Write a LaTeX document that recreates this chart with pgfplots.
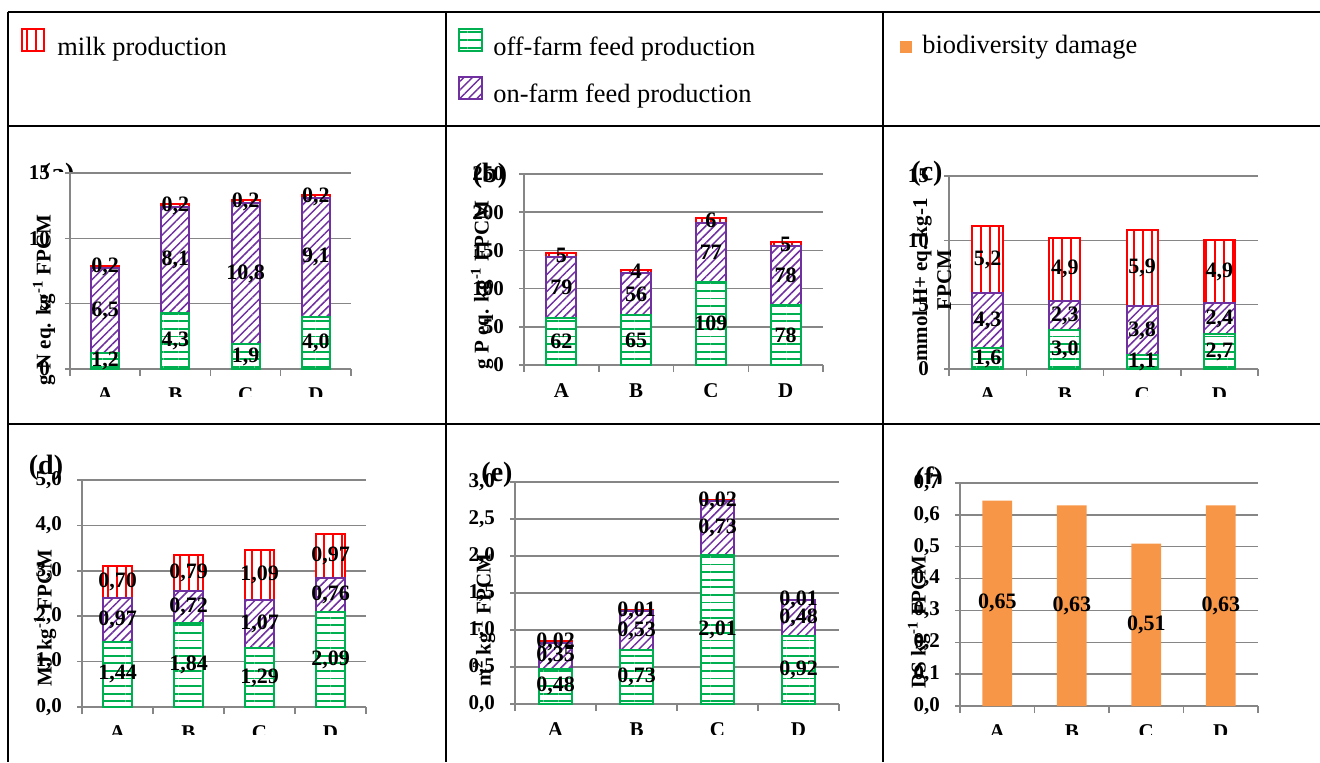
\documentclass[border=0pt]{standalone}
\usepackage{fontspec}
\setmainfont{Liberation Serif}
\usepackage{pgfplots}
\pgfplotsset{compat=1.18}
\usepackage{pgfplotstable}
\usetikzlibrary{patterns.meta}
\definecolor{offgreen}{HTML}{00B050}
\definecolor{onpurple}{HTML}{7030A0}
\definecolor{milkred}{HTML}{FF0000}
\definecolor{bioorange}{HTML}{F79646}
\definecolor{gridgray}{HTML}{868686}
\newcommand{\tl}{\fontsize{10.5}{12}\selectfont\bfseries}
\newcommand{\bl}{\fontsize{11}{12}\selectfont\bfseries}
\newcommand{\ttl}{\fontsize{14}{16}\selectfont\bfseries}
\newcommand{\legfont}{\fontsize{13.2}{15}\selectfont}
\tikzset{
  gpat/.style={pattern={Lines[angle=0,distance=3.8pt,line width=0.9pt]}, pattern color=offgreen},
  ppat/.style={pattern={Lines[angle=45,distance=3pt,line width=0.75pt]}, pattern color=onpurple},
  rpat/.style={pattern={Lines[angle=90,distance=4.5pt,line width=1pt]}, pattern color=milkred},
}
\pgfplotsset{
  /pgf/number format/assume math mode=true,
  /pgf/number format/use comma,
  base/.style={scale only axis, xmin=-0.5, xmax=3.5, ymin=0, clip=false, anchor=south west},
  frame/.style={base, ybar stacked, bar width=0.4,
    axis lines*=left,
    axis line style={draw=gridgray, line width=0.75pt},
    ymajorgrids, grid style={draw=gridgray, line width=0.75pt},
    xtick={0,1,2,3}, xticklabels={A,B,C,D},
    minor xtick={-0.5,0.5,1.5,2.5,3.5},
    major x tick style={draw=none},
    minor x tick style={draw=gridgray, line width=0.75pt},
    minor tick length=3.5pt, major tick length=2.5pt, tick align=outside,
    ytick style={draw=gridgray, line width=0.75pt},
    tick label style={font=\tl},
    xticklabel style={yshift=-3.5pt},
    yticklabel style={xshift=-4pt},
  },
  dec/.style={yticklabel style={/pgf/number format/.cd, fixed, fixed zerofill, precision=1}},
  lab/.style={base, hide axis},
  labplot/.style={draw=none, point meta=explicit,
    nodes near coords={\pgfmathprintnumber[fixed,fixed zerofill,precision=#1]{\pgfplotspointmeta}},
    every node near coord/.append style={anchor=center, font=\bl, inner sep=0pt}},
  greenbar/.style={draw=offgreen, line width=1pt, preaction={fill=white}, gpat},
  purplebar/.style={draw=onpurple, line width=1pt, preaction={fill=white}, ppat},
  redbar/.style={draw=milkred, line width=1pt, preaction={fill=white}, rpat},
}
\pgfplotstableread{
x g p r
0 1.2 6.5 0.2
1 4.3 8.1 0.2
2 1.9 10.8 0.2
3 4.0 9.1 0.2
}\tabA
\pgfplotstableread{
x g p r
0 62 79 5
1 65 56 4
2 109 77 6
3 78 78 5
}\tabB
\pgfplotstableread{
x g p r
0 1.6 4.3 5.2
1 3.0 2.3 4.9
2 1.1 3.8 5.9
3 2.7 2.4 4.9
}\tabC
\pgfplotstableread{
x g p r
0 1.44 0.97 0.70
1 1.84 0.72 0.79
2 1.29 1.07 1.09
3 2.09 0.76 0.97
}\tabD
\pgfplotstableread{
x g p r
0 0.48 0.35 0.02
1 0.73 0.53 0.01
2 2.01 0.73 0.02
3 0.92 0.48 0.01
}\tabE
\pgfplotstableread{
x v lab
0 0.645 0.65
1 0.63 0.63
2 0.51 0.51
3 0.63 0.63
}\tabF
\begin{document}
\begin{tikzpicture}
\useasboundingbox (0pt,0pt) rectangle (660pt,-381pt);
% ---------- table frame and legend
\begin{scope}[x=0.5pt,y=-0.5pt]
\draw[line width=1.3pt] (7.5,12) -- (1320,12);
\draw[line width=1.3pt] (7.5,126) -- (1320,126);
\draw[line width=1.3pt] (7.5,424) -- (1320,424);
\draw[line width=1pt] (8,12) -- (8,762);
\draw[line width=1pt] (446,12) -- (446,762);
\draw[line width=1pt] (883,12) -- (883,762);
\draw[milkred, line width=0.9pt, rpat] (22,29) rectangle (44,51);
\node[anchor=base west, font=\legfont, inner sep=0pt] at (57,55) {milk production};
\draw[offgreen, line width=0.9pt, gpat] (459,29) rectangle (482,51);
\node[anchor=base west, font=\legfont, inner sep=0pt] at (493,55) {off-farm feed production};
\draw[onpurple, line width=0.9pt, ppat] (459,77) rectangle (482,99);
\node[anchor=base west, font=\legfont, inner sep=0pt] at (493,102) {on-farm feed production};
\fill[bioorange] (900,41) rectangle (912,53);
\node[anchor=base west, font=\legfont, inner sep=0pt] at (922,53) {biodiversity damage};
\end{scope}
% ---------- (a)
\begin{scope}
\clip (4pt,-63pt) rectangle (223pt,-198pt);
\begin{axis}[frame, at={(35pt,-184.5pt)}, width=140.5pt, height=98pt, ymax=15, ytick={0,5,10,15}]
\addplot[greenbar] table[x=x,y=g]{\tabA};
\addplot[purplebar] table[x=x,y=p]{\tabA};
\addplot[redbar] table[x=x,y=r]{\tabA};
\end{axis}
\end{scope}
\begin{axis}[lab, at={(35pt,-184.5pt)}, width=140.5pt, height=98pt, ymax=15]
\addplot[labplot=1] table[x=x, y expr=\thisrow{g}/2, meta=g]{\tabA};
\addplot[labplot=1] table[x=x, y expr=\thisrow{g}+\thisrow{p}/2, meta=p]{\tabA};
\addplot[labplot=1] table[x=x, y expr=\thisrow{g}+\thisrow{p}+\thisrow{r}/2, meta=r]{\tabA};
\end{axis}
% ---------- (b)
\begin{scope}
\clip (223pt,-63pt) rectangle (441.5pt,-198pt);
\begin{axis}[frame, at={(262pt,-182.5pt)}, width=149.5pt, height=95.5pt, ymax=250, ytick={0,50,100,150,200,250}]
\addplot[greenbar] table[x=x,y=g]{\tabB};
\addplot[purplebar] table[x=x,y=p]{\tabB};
\addplot[redbar] table[x=x,y=r]{\tabB};
\end{axis}
\end{scope}
\begin{axis}[lab, at={(262pt,-182.5pt)}, width=149.5pt, height=95.5pt, ymax=250]
\addplot[labplot=0] table[x=x, y expr=\thisrow{g}/2, meta=g]{\tabB};
\addplot[labplot=0] table[x=x, y expr=\thisrow{g}+\thisrow{p}/2, meta=p]{\tabB};
\addplot[labplot=0] table[x=x, y expr=\thisrow{g}+\thisrow{p}+\thisrow{r}/2, meta=r]{\tabB};
\end{axis}
% ---------- (c)
\begin{scope}
\clip (441.5pt,-63pt) rectangle (660pt,-198pt);
\begin{axis}[frame, at={(474.5pt,-184.5pt)}, width=154.5pt, height=96.5pt, ymax=15, ytick={0,5,10,15}]
\addplot[greenbar] table[x=x,y=g]{\tabC};
\addplot[purplebar] table[x=x,y=p]{\tabC};
\addplot[redbar] table[x=x,y=r]{\tabC};
\end{axis}
\end{scope}
\begin{axis}[lab, at={(474.5pt,-184.5pt)}, width=154.5pt, height=96.5pt, ymax=15]
\addplot[labplot=1] table[x=x, y expr=\thisrow{g}/2, meta=g]{\tabC};
\addplot[labplot=1] table[x=x, y expr=\thisrow{g}+\thisrow{p}/2, meta=p]{\tabC};
\addplot[labplot=1] table[x=x, y expr=\thisrow{g}+\thisrow{p}+\thisrow{r}/2, meta=r]{\tabC};
\end{axis}
% ---------- (d)
\begin{scope}
\clip (4pt,-212pt) rectangle (223pt,-367pt);
\begin{axis}[frame, dec, at={(41pt,-353.5pt)}, width=142pt, height=113.5pt, ymax=5, ytick={0,1,2,3,4,5}]
\addplot[greenbar] table[x=x,y=g]{\tabD};
\addplot[purplebar] table[x=x,y=p]{\tabD};
\addplot[redbar] table[x=x,y=r]{\tabD};
\end{axis}
\end{scope}
\begin{axis}[lab, at={(41pt,-353.5pt)}, width=142pt, height=113.5pt, ymax=5]
\addplot[labplot=2] table[x=x, y expr=\thisrow{g}/2, meta=g]{\tabD};
\addplot[labplot=2] table[x=x, y expr=\thisrow{g}+\thisrow{p}/2, meta=p]{\tabD};
\addplot[labplot=2] table[x=x, y expr=\thisrow{g}+\thisrow{p}+\thisrow{r}/2, meta=r]{\tabD};
\end{axis}
% ---------- (e)
\begin{scope}
\clip (223pt,-212pt) rectangle (441.5pt,-367pt);
\begin{axis}[frame, dec, at={(257.5pt,-352pt)}, width=162pt, height=111pt, ymax=3, ytick={0,0.5,1,1.5,2,2.5,3}]
\addplot[greenbar] table[x=x,y=g]{\tabE};
\addplot[purplebar] table[x=x,y=p]{\tabE};
\addplot[redbar] table[x=x,y=r]{\tabE};
\end{axis}
\end{scope}
\begin{axis}[lab, at={(257.5pt,-352pt)}, width=162pt, height=111pt, ymax=3]
\addplot[labplot=2] table[x=x, y expr=\thisrow{g}/2, meta=g]{\tabE};
\addplot[labplot=2] table[x=x, y expr=\thisrow{g}+\thisrow{p}/2, meta=p]{\tabE};
\addplot[labplot=2] table[x=x, y expr=\thisrow{g}+\thisrow{p}+\thisrow{r}/2, meta=r]{\tabE};
\end{axis}
% ---------- (f)
\begin{scope}
\clip (441.5pt,-212pt) rectangle (660pt,-367pt);
\begin{axis}[frame, dec, at={(480pt,-353pt)}, width=149pt, height=111.5pt, ymax=0.7, ytick={0,0.1,0.2,0.3,0.4,0.5,0.6,0.7}]
\addplot[fill=bioorange, draw=none] table[x=x,y=v]{\tabF};
\end{axis}
\end{scope}
\begin{axis}[lab, at={(480pt,-353pt)}, width=149pt, height=111.5pt, ymax=0.7]
\addplot[labplot=2] table[x=x, y expr=\thisrow{v}/2, meta=lab]{\tabF};
\end{axis}
% ---------- titles and axis labels
\begin{scope}[x=0.5pt,y=-0.5pt]
\node[rotate=90, font=\tl] at (44,300) {g N eq. kg\textsuperscript{-1} FPCM};
\node[rotate=90, font=\tl] at (482,285) {g P eq. kg\textsuperscript{-1} FPCM};
\node[rotate=90, font=\tl, align=center] at (932,280) {mmol H+ eq. kg-1\\FPCM};
\node[rotate=90, font=\tl] at (45,618) {MJ kg\textsuperscript{-1} FPCM};
\node[rotate=90, font=\tl] at (484,620) {m\textsuperscript{2} kg\textsuperscript{-1} FPCM};
\node[rotate=90, font=\tl] at (919,622) {DS kg\textsuperscript{-1} FPCM};
\begin{scope}
\clip (30,150) rectangle (90,171);
\node[font=\ttl] at (58,176) {(a)};
\end{scope}
\node[font=\ttl] at (490,176) {(b)};
\node[font=\ttl] at (927,174) {(c)};
\node[font=\ttl] at (46,468) {(d)};
\node[font=\ttl] at (497,475) {(e)};
\begin{scope}
\clip (900,455) rectangle (960,483);
\node[font=\ttl] at (929,480) {(f)};
\end{scope}
\end{scope}
\end{tikzpicture}
\end{document}
